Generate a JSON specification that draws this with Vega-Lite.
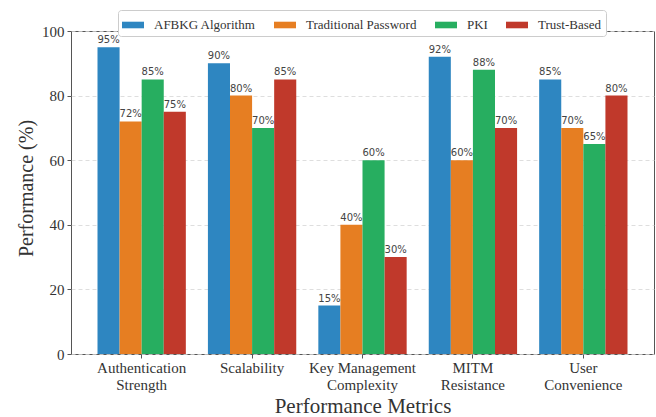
{
  "$schema": "https://vega.github.io/schema/vega-lite/v6.json",
  "autosize": {"type": "none"},
  "width": 583,
  "height": 323,
  "padding": {"left": 71, "top": 31, "right": 2, "bottom": 63},
  "background": "white",
  "config": {
    "font": "Liberation Serif",
    "view": {"stroke": "#555", "strokeWidth": 1},
    "axis": {
      "labelFont": "Liberation Serif",
      "titleFont": "Liberation Serif",
      "labelColor": "#333",
      "titleColor": "#333",
      "domainColor": "#555",
      "tickColor": "#555",
      "tickSize": 4,
      "titleFontWeight": "normal"
    }
  },
  "data": {
    "values": [
      {"metric": "Authentication Strength", "method": "AFBKG Algorithm", "value": 95},
      {"metric": "Authentication Strength", "method": "Traditional Password", "value": 72},
      {"metric": "Authentication Strength", "method": "PKI", "value": 85},
      {"metric": "Authentication Strength", "method": "Trust-Based", "value": 75},
      {"metric": "Scalability", "method": "AFBKG Algorithm", "value": 90},
      {"metric": "Scalability", "method": "Traditional Password", "value": 80},
      {"metric": "Scalability", "method": "PKI", "value": 70},
      {"metric": "Scalability", "method": "Trust-Based", "value": 85},
      {"metric": "Key Management Complexity", "method": "AFBKG Algorithm", "value": 15},
      {"metric": "Key Management Complexity", "method": "Traditional Password", "value": 40},
      {"metric": "Key Management Complexity", "method": "PKI", "value": 60},
      {"metric": "Key Management Complexity", "method": "Trust-Based", "value": 30},
      {"metric": "MITM Resistance", "method": "AFBKG Algorithm", "value": 92},
      {"metric": "MITM Resistance", "method": "Traditional Password", "value": 60},
      {"metric": "MITM Resistance", "method": "PKI", "value": 88},
      {"metric": "MITM Resistance", "method": "Trust-Based", "value": 70},
      {"metric": "User Convenience", "method": "AFBKG Algorithm", "value": 85},
      {"metric": "User Convenience", "method": "Traditional Password", "value": 70},
      {"metric": "User Convenience", "method": "PKI", "value": 65},
      {"metric": "User Convenience", "method": "Trust-Based", "value": 80}
    ]
  },
  "encoding": {
    "x": {
      "field": "metric",
      "type": "nominal",
      "sort": null,
      "scale": {"paddingInner": 0.2, "paddingOuter": 0.24},
      "axis": {
        "title": "Performance Metrics",
        "titleFontSize": 21,
        "titleX": 291.5,
        "titleY": 58,
        "titleBaseline": "alphabetic",
        "labelAngle": 0,
        "labelFontSize": 15,
        "labelPadding": 2,
        "labelLineHeight": 17,
        "labelExpr": "datum.label == 'Key Management Complexity' ? ['Key Management', 'Complexity'] : split(datum.label, ' ')",
        "domain": false,
        "grid": false
      }
    },
    "xOffset": {
      "field": "method",
      "type": "nominal",
      "sort": ["AFBKG Algorithm", "Traditional Password", "PKI", "Trust-Based"]
    },
    "y": {
      "field": "value",
      "type": "quantitative",
      "scale": {"domain": [0, 100], "nice": false},
      "axis": {
        "title": "Performance (%)",
        "titleFontSize": 20,
        "titleX": -45,
        "titleY": 157,
        "titleAngle": -90,
        "titleAlign": "center",
        "titleBaseline": "middle",
        "labelFontSize": 15,
        "labelPadding": 3,
        "values": [0, 20, 40, 60, 80, 100],
        "domain": false,
        "grid": true,
        "gridColor": "#d6d6d6",
        "gridDash": [4, 3],
        "gridWidth": 0.8
      }
    }
  },
  "layer": [
    {
      "mark": {"type": "bar"},
      "encoding": {
        "color": {
          "field": "method",
          "type": "nominal",
          "scale": {
            "domain": ["AFBKG Algorithm", "Traditional Password", "PKI", "Trust-Based"],
            "range": ["#2E86C1", "#E67E22", "#27AE60", "#C0392B"]
          },
          "legend": {
            "title": null,
            "orient": "none",
            "direction": "horizontal",
            "legendX": 47,
            "legendY": -21,
            "padding": 4,
            "strokeColor": "#cccccc",
            "fillColor": "white",
            "cornerRadius": 3,
            "symbolType": "M-1,-0.3H1V0.3H-1Z",
            "symbolSize": 484,
            "symbolStrokeWidth": 0,
            "symbolOpacity": 1,
            "labelFont": "Liberation Serif",
            "labelFontSize": 13,
            "labelColor": "#333",
            "labelOffset": 10,
            "columnPadding": 18
          }
        }
      }
    },
    {
      "mark": {
        "type": "text",
        "baseline": "bottom",
        "dy": -2,
        "font": "DejaVu Sans",
        "fontSize": 10,
        "color": "#444",
        "text": {"expr": "datum.value + '%'"}
      },
      "encoding": {}
    }
  ]
}
